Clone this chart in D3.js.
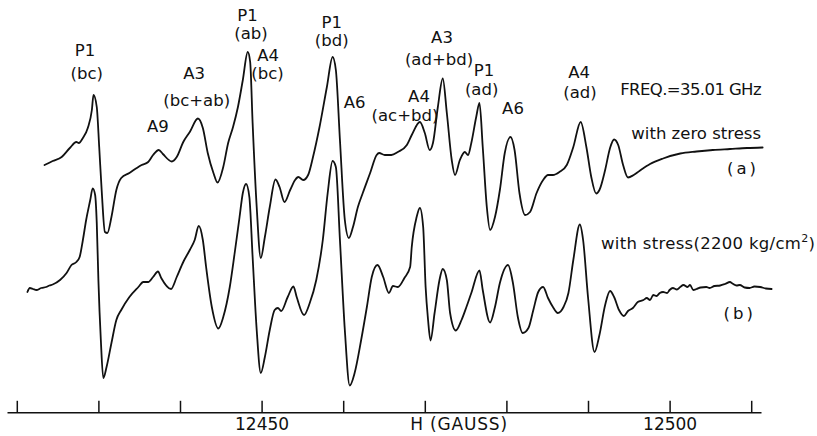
<!DOCTYPE html>
<html>
<head>
<meta charset="utf-8">
<script src="https://cdn.jsdelivr.net/npm/d3@7"></script>
<style>
  html, body { margin: 0; padding: 0; background: #fff; }
  svg { display: block; }
  text { font-family: "DejaVu Sans", "Liberation Sans", sans-serif; fill: #111; }
</style>
</head>
<body>
<svg id="chart" width="817" height="436"></svg>
<script>
// ---- Data (magnetic field H in gauss, derivative signal in arbitrary units) ----
const fieldA = [12423.4,12424.4,12425.5,12426.5,12427.3,12427.6,12428.1,12428.7,12429.2,12429.4,12429.8,12430.1,12430.4,12430.8,12431.1,12431.6,12432.2,12432.8,12433.8,12434.7,12435.3,12436.1,12436.7,12437.4,12437.9,12439.0,12439.6,12440.4,12441.2,12442.2,12442.8,12443.4,12444.1,12444.6,12445.3,12445.9,12446.5,12447.1,12447.7,12448.3,12448.6,12448.9,12449.4,12449.9,12450.4,12451.0,12451.7,12452.2,12452.8,12453.5,12454.1,12454.5,12455.1,12455.7,12456.3,12457.1,12458.0,12458.7,12459.1,12459.6,12460.2,12460.7,12461.2,12461.8,12462.4,12463.3,12464.1,12464.4,12465.1,12465.9,12466.7,12467.8,12468.4,12469.4,12470.0,12470.6,12471.0,12471.6,12472.2,12472.7,12473.3,12473.7,12474.3,12474.9,12475.3,12475.7,12476.3,12476.7,12477.1,12477.6,12478.0,12478.6,12479.2,12479.8,12480.5,12481.0,12481.6,12482.3,12482.9,12483.7,12484.5,12485.1,12485.7,12486.5,12487.4,12488.2,12489.1,12489.8,12490.4,12491.0,12491.4,12492.1,12492.7,12493.2,12493.7,12494.3,12494.9,12495.6,12496.3,12497.6,12499.2,12501.3,12503.3,12505.3,12507.4,12509.5,12511.4];
const signalA = [-15,-11,-7,2,8,7,12,22,40,55,43,3,-40,-82,-83,-67,-40,-28,-23,-18,-15,-12,-5,0,-4,-11.5,-7,8,18,31.5,22,-3,-23,-32.5,-17,7,23,43,70,98,88,27,-57,-108,-87,-57,-29.5,-37,-52,-40,-30,-27,-30,-25,-7,23,63,93,80,10,-70,-88,-77,-57,-43,-23,-5,-3,-5,-5,-2,5,15,28,17,0,7,43,71.5,37,-10,-25,-10,-2,-5,7,33,47,3,-57,-80,-67,-40,-3,13,0,-43,-65,-62,-43,-30,-25,-25,-22,-15,3,28,3,-27,-43.5,-40,-20,2,10.5,5,-15,-27.5,-25,-21,-14,-8.5,-3.5,-1.5,0,1,2,2.5];

const fieldB = [12421.3,12421.6,12422.0,12422.4,12423.0,12423.6,12424.0,12424.4,12425.3,12426.1,12426.7,12427.3,12427.7,12428.1,12428.5,12429.0,12429.3,12429.6,12429.8,12430.0,12430.3,12430.6,12431.0,12431.6,12432.2,12432.8,12433.8,12434.9,12435.5,12436.1,12436.7,12437.3,12437.7,12438.9,12439.6,12440.4,12441.2,12441.8,12442.3,12442.8,12443.2,12443.9,12444.7,12445.3,12446.1,12446.7,12447.3,12447.7,12448.1,12448.5,12448.9,12449.4,12449.9,12450.4,12451.0,12451.6,12452.0,12452.4,12453.2,12453.9,12454.3,12455.2,12455.9,12456.7,12457.5,12458.1,12458.7,12459.1,12459.6,12460.2,12460.8,12461.4,12462.2,12462.9,12463.5,12464.2,12464.9,12465.6,12466.1,12466.7,12467.5,12468.2,12468.4,12469.0,12469.4,12469.8,12470.1,12470.4,12470.7,12471.2,12471.8,12472.2,12472.7,12473.1,12473.8,12474.5,12475.1,12475.7,12476.7,12477.1,12478.0,12478.6,12479.2,12480.2,12480.8,12481.4,12482.0,12482.7,12483.3,12483.9,12484.5,12485.1,12485.7,12486.3,12487.0,12487.6,12488.2,12489.0,12489.4,12490.0,12490.8,12491.4,12492.1,12492.7,12493.2,12493.8,12494.4,12494.9,12495.5,12496.1,12496.8,12497.2,12497.6,12498.0,12498.4,12498.8,12499.2,12499.7,12500.0,12500.4,12500.9,12501.3,12501.7,12502.2,12502.5,12502.9,12503.3,12503.8,12504.5,12504.9,12505.5,12506.2,12506.8,12507.4,12507.7,12508.2,12508.6,12509.2,12509.8,12510.4,12511.1,12511.8,12512.5];
const signalB = [-5,-1,-2,-3,-1,0,1.5,2.5,7,14,22,25,30,47,67,87,98.7,92,64,7,-53,-91,-80,-56,-33,-23,-10,0,5,5,10,15.5,9,-2,10,25,37,47,61,47,20,-20,-41.5,-30,0,34,70,94,103,90,30,-43,-86,-70,-43,-23,-21,-24,-10,0.5,-10,-28,-16,7,47,94,126,120,47,-43,-98.5,-86,-53,-20,10,22,10,-6,1,0,9,20,40,70,79,60,0,-33,-53.5,-26,7,18,7,-26,-43.5,-33,-20,-6,16.5,-3,-35.5,-20,4,22,4,-30,-46,-41,-23,-5,0,-11,-20,-26,-20,-6,27,62.5,47,-10,-65,-48,-18,-4,-10,-23,-29,-24,-21,-15,-13,-11,-13,-8,-9,-6,-5,-6,-3,-1,-2.5,0,2,0,2,-3,-2,-0.5,0,-1,1,1.5,3,5,3.5,1.5,2,-0.5,-1,0.5,0,-1.5,-2];

// vertical offsets of the two recordings (arbitrary units)
const offsetA = 100;   // (a) with zero stress
const offsetB = -37;   // (b) with stress

const fieldTicks = [12420,12430,12440,12450,12460,12470,12480,12490,12500,12510];
const labelledTicks = [12450, 12500];
const axisTitle = "H (GAUSS)";

// peak annotation texts: [text, field (G), height above trace (a) baseline]
const peakLabels = [
  ["P1", 12428.36, 94],   ["(bc)", 12428.57, 70.7],
  ["A9", 12437.3, 18],
  ["A3", 12441.72, 70.7], ["(bc+ab)", 12442.05, 44],
  ["P1", 12448.27, 129],  ["(ab)", 12448.7, 110.7],
  ["A4", 12450.79, 89],   ["(bc)", 12450.73, 70.7],
  ["P1", 12458.59, 122.3],["(bd)", 12458.59, 104],
  ["A6", 12461.39, 42.5],
  ["A4", 12469.29, 48.5], ["(ac+bd)", 12467.57, 29],
  ["A3", 12472.11, 107.3],["(ad+bd)", 12471.74, 85],
  ["P1", 12477.26, 74],   ["(ad)", 12476.97, 55],
  ["A6", 12480.81, 36.5],
  ["A4", 12488.9, 72.3],  ["(ad)", 12489.02, 52]
];
const freqText = "FREQ.=35.01 GHz";
const labelA = ["with zero stress", "(a)"];
const labelB = ["with stress(2200 kg/cm", "2", ")", "(b)"];

// ---- Drawing ----
const svg = d3.select("#chart");
const x = d3.scaleLinear().domain([12418.8, 12511.2]).range([7, 761]);
const y = d3.scaleLinear().domain([-160, 240]).range([410, 10]);

const line = d3.line().curve(d3.curveMonotoneX);

function drawTrace(fields, signals, offset) {
  const pts = fields.map((f, i) => [x(f), y(signals[i] + offset)]);
  svg.append("path")
    .attr("d", line(pts))
    .attr("fill", "none")
    .attr("stroke", "#111")
    .attr("stroke-width", 1.8)
    .attr("stroke-linejoin", "round")
    .attr("stroke-linecap", "round");
}
drawTrace(fieldA, signalA, offsetA);
drawTrace(fieldB, signalB, offsetB);

// axis
const axis = d3.axisBottom(x)
  .tickValues(fieldTicks)
  .tickSizeInner(-11.5)
  .tickSizeOuter(0)
  .tickPadding(6)
  .tickFormat(d => labelledTicks.includes(d) ? String(d) : "");
const gAxis = svg.append("g").attr("transform", `translate(0,${y(-162.3)})`).call(axis);
gAxis.select(".domain").attr("stroke", "#111").attr("stroke-width", 1.6);
gAxis.selectAll(".tick line").attr("stroke", "#111").attr("stroke-width", 1.5);
gAxis.selectAll(".tick text")
  .attr("font-family", "DejaVu Sans, sans-serif")
  .attr("font-size", 17)
  .attr("fill", "#111");
svg.append("text")
  .attr("x", x(12474.2)).attr("y", y(-180.3))
  .attr("text-anchor", "middle")
  .attr("font-size", 17)
  .attr("letter-spacing", 0.8)
  .text(axisTitle);

// peak labels
const fs = 16.5;
peakLabels.forEach(([t, f, s]) => {
  svg.append("text")
    .attr("x", x(f)).attr("y", y(s + offsetA))
    .attr("text-anchor", "middle")
    .attr("font-size", fs)
    .text(t);
});

svg.append("text").attr("x", x(12511.2)).attr("y", y(154.7)).attr("text-anchor", "end")
  .attr("font-size", fs).attr("letter-spacing", -0.6).text(freqText);
svg.append("text").attr("x", x(12511.2)).attr("y", y(111.3)).attr("text-anchor", "end")
  .attr("font-size", fs).text(labelA[0]);
svg.append("text").attr("x", x(12509.0)).attr("y", y(75.7)).attr("text-anchor", "middle")
  .attr("font-size", fs).attr("letter-spacing", 3).text(labelA[1]);

const tb = svg.append("text").attr("x", x(12491.6)).attr("y", y(1)).attr("text-anchor", "start")
  .attr("font-size", fs).attr("letter-spacing", 0.3);
tb.append("tspan").text(labelB[0]);
tb.append("tspan").attr("dy", -7).attr("font-size", 11).text(labelB[1]);
tb.append("tspan").attr("dy", 7).text(labelB[2]);
svg.append("text").attr("x", x(12508.6)).attr("y", y(-68.7)).attr("text-anchor", "middle")
  .attr("font-size", fs).attr("letter-spacing", 3).text(labelB[3]);
</script>
</body>
</html>
